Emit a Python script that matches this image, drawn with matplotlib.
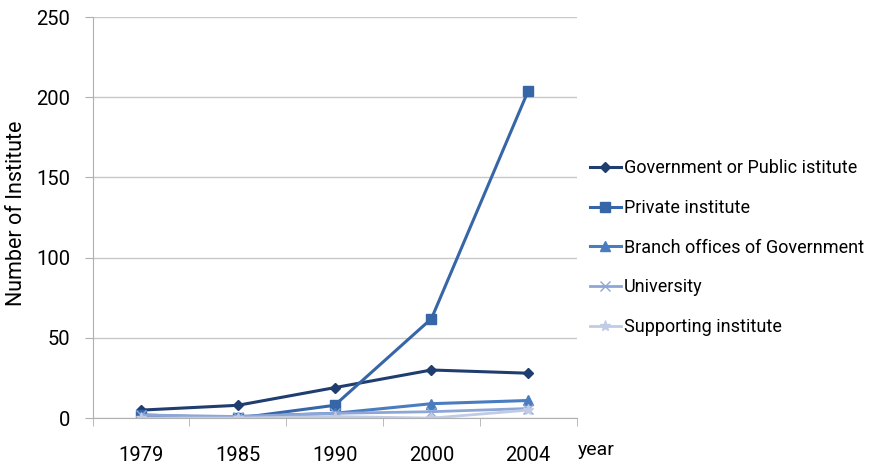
import numpy as np
import matplotlib
matplotlib.use('Agg')
import matplotlib.pyplot as plt

years = ['1979', '1985', '1990', '2000', '2004']
government = [5, 8, 19, 30, 28]
private = [2, 0, 8, 62, 204]
branch = [0, 1, 3, 9, 11]
university = [2, 1, 3, 4, 6]
supporting = [0, 0, 1, 0, 5]

plt.rcParams['font.family'] = ['Roboto', 'DejaVu Sans']

fig = plt.figure(figsize=(8.83, 4.73), dpi=100)
ax = fig.add_axes([0.105, 0.116, 0.548, 0.848])

x = np.arange(len(years))
ax.plot(x, government, color='#1f3d6e', marker='D', ms=5, lw=2.2, label='Government or Public istitute')
ax.plot(x, private, color='#3766a8', marker='s', ms=7, lw=2.2, label='Private institute')
ax.plot(x, branch, color='#4a7cc0', marker='^', ms=7, lw=2.2, label='Branch offices of Government')
ax.plot(x, university, color='#8ea6d6', marker='x', ms=7, lw=2, label='University')
ax.plot(x, supporting, color='#c0cce6', marker='*', ms=8, lw=2, label='Supporting institute')

ax.set_xlim(-0.5, 4.5)
ax.set_ylim(0, 250)
ax.set_yticks([0, 50, 100, 150, 200, 250])
ax.set_xticks(x)
ax.set_xticklabels(years)
ax.set_xticks(np.arange(-0.5, 5, 1), minor=True)
ax.tick_params(axis='x', which='major', length=0, pad=20, labelsize=14.5)
ax.tick_params(axis='x', which='minor', length=6, color='#b0b0b0', direction='out')
ax.tick_params(axis='y', length=6, color='#b0b0b0', pad=10, labelsize=14.5)
ax.grid(axis='y', color='#c8c8c8', lw=1)
ax.set_axisbelow(True)
for s in ['top', 'right']:
    ax.spines[s].set_visible(False)
ax.spines['left'].set_color('#b0b0b0')
ax.spines['bottom'].set_color('#b0b0b0')

ax.set_ylabel('Number of Institute', fontsize=15.5, va='center')
ax.yaxis.set_label_coords(-0.157, 0.51)
ax.text(4.51, -20, 'year', fontsize=14, ha='left', va='center', clip_on=False)

ax.legend(loc='center left', bbox_to_anchor=(0.99, 0.425), frameon=False, fontsize=13,
          handlelength=1.7, handletextpad=0.2, labelspacing=1.2, borderaxespad=0.6)

plt.savefig('out.png', dpi=100)
plt.close()
